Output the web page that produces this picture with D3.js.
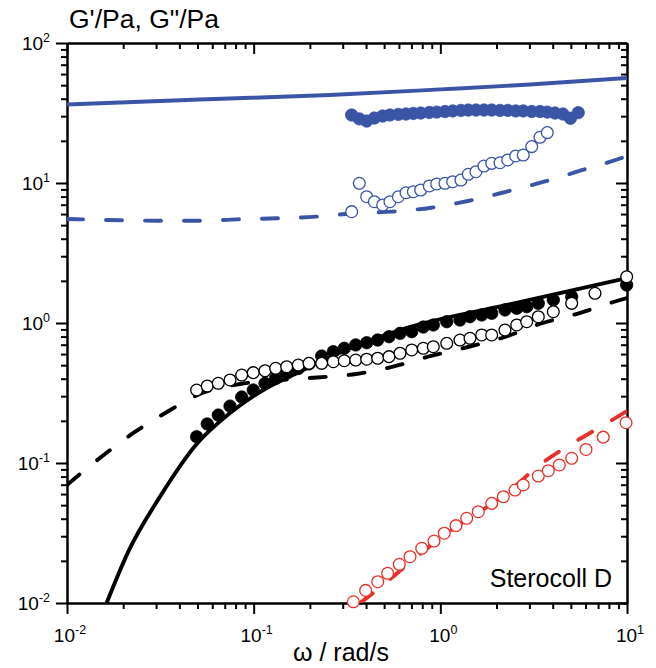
<!DOCTYPE html>
<html>
<head>
<meta charset="UTF-8">
<title>Sterocoll D</title>
<script src="https://d3js.org/d3.v7.min.js"></script>
<style>
  body { margin: 0; background: #fff; }
  svg { display: block; font-family: "Liberation Sans", Arial, sans-serif; }
  .axis path, .axis line { stroke: #000; stroke-width: 2; }
  .axis text { display: none; }
</style>
</head>
<body>
<svg id="chart" width="656" height="668"></svg>
<script>
// measured points (omega in rad/s, moduli in Pa)
const blueOmega = [0.335, 0.368, 0.403, 0.443, 0.491, 0.537, 0.596, 0.655, 0.717, 0.785,
  0.873, 0.956, 1.059, 1.165, 1.290, 1.412, 1.552, 1.713, 1.884, 2.087,
  2.296, 2.534, 2.782, 3.087, 3.419, 3.741, 4.114, 4.54, 4.98, 5.48];
const blueG1 = [30.6, 28.7, 27.7, 29.1, 30.1, 30.6, 30.9, 31.1, 31.4, 31.6,
  31.9, 32.1, 32.4, 32.7, 33.0, 33.2, 33.2, 33.2, 33.2, 33.0,
  33.0, 32.7, 32.7, 32.4, 32.4, 32.1, 31.6, 31.1, 29.0, 31.8];
const blueG2 = [6.24, 9.95, 7.98, 7.35, 6.97, 7.35, 7.98, 8.52, 8.67, 8.91,
  9.52, 9.84, 9.95, 10.22, 10.5, 11.54, 12.04, 13.22, 13.82, 13.96,
  14.6, 15.6, 15.85, 18.2, 21.2, 22.9];

const blackOmega = [0.0495, 0.0564, 0.0646, 0.0747, 0.0863, 0.0995, 0.115, 0.1312, 0.1503, 0.1734,
  0.1979, 0.2314, 0.2671, 0.3058, 0.3521, 0.4033, 0.4618, 0.5309, 0.6081, 0.7026,
  0.8103, 0.917, 1.082, 1.274, 1.442, 1.665, 1.884, 2.22, 2.566, 2.902,
  3.348, 4.029, 5.054, 6.737, 9.96];
const blackG1 = [0.154, 0.190, 0.220, 0.255, 0.296, 0.332, 0.371, 0.403, 0.440, 0.473,
  0.510, 0.581, 0.624, 0.660, 0.697, 0.723, 0.756, 0.798, 0.844, 0.867,
  0.936, 0.968, 1.022, 1.050, 1.109, 1.141, 1.173, 1.239, 1.274, 1.307,
  1.382, 1.460, 1.541, null, 1.868];
const blackG2 = [0.332, 0.355, 0.371, 0.392, 0.425, 0.442, 0.456, 0.475, 0.487, 0.501,
  0.515, 0.515, 0.529, 0.538, 0.544, 0.551, 0.560, 0.575, 0.608, 0.642,
  0.660, 0.677, 0.716, 0.756, 0.778, 0.821, 0.821, 0.891, 0.968, 1.022,
  1.109, 1.204, 1.382, 1.630, 2.141];

const redOmega = [0.342, 0.398, 0.462, 0.522, 0.603, 0.688, 0.795, 0.925, 1.050, 1.213,
  1.384, 1.597, 1.884, 2.175, 2.512, 2.782, 3.348, 3.788, 4.338, 5.054,
  6.03, 7.46, 9.88];
const redG2 = [0.0102, 0.0123, 0.0142, 0.0163, 0.0189, 0.0214, 0.0246, 0.0277, 0.0315, 0.0357,
  0.0403, 0.0449, 0.0515, 0.0574, 0.0641, 0.0697, 0.0807, 0.0881, 0.0968, 0.108,
  0.125, 0.153, 0.194];

// model curves
const blueFitOmega = [0.01, 0.0516, 0.2563, 1.0, 3.021, 10];
const blueFitG1 = [36.4, 39.5, 42.5, 46.6, 50.5, 56.2];
const blueFit2Omega = [0.01, 0.0197, 0.0319, 0.0509, 0.0814, 0.1334, 0.2158, 0.3447, 0.551, 0.8913,
  1.406, 2.275, 3.636, 5.666, 8.838, 10];
const blueFitG2 = [5.53, 5.42, 5.38, 5.38, 5.50, 5.60, 5.75, 6.08, 6.24, 6.66,
  7.44, 8.69, 10.25, 12.29, 14.72, 15.59];

const blackFitOmega = [0.0163, 0.0213, 0.0315, 0.0495, 0.0747, 0.1126, 0.17, 0.2563, 0.6081, 2.267, 10];
const blackFitG1 = [0.01, 0.0233, 0.0575, 0.1367, 0.2276, 0.3322, 0.4373, 0.5717, 0.8913, 1.345, 2.096];
const blackFit2Omega = [0.01, 0.015, 0.0231, 0.0343, 0.0529, 0.0845, 0.1384, 0.2184, 0.3534, 0.5578,
  0.8913, 1.406, 2.22, 3.462, 5.463, 8.626, 10];
const blackFitG2 = [0.0697, 0.1086, 0.1666, 0.2313, 0.3162, 0.3667, 0.3916, 0.408, 0.4323, 0.4874,
  0.5813, 0.6739, 0.7943, 0.9918, 1.169, 1.424, 1.509];

const redFitOmega = [0.371, 0.458, 0.663, 0.996, 2.42, 3.295, 4.83, 7.35, 10];
const redFitG2 = [0.01, 0.0124, 0.0187, 0.0291, 0.0652, 0.0936, 0.1322, 0.1837, 0.235];

const xMajors = [0.01, 0.1, 1, 10];
const yMajors = [0.01, 0.1, 1, 10, 100];

const BLUE = '#3a55a6', RED = '#e8302a';

const W = 656, H = 668;
const margin = { left: 67, right: 29, top: 43, bottom: 65 };
const svg = d3.select('#chart');

const x = d3.scaleLog().domain([0.01, 10]).range([margin.left, W - margin.right]);
const y = d3.scaleLog().domain([0.01, 100]).range([H - margin.bottom, margin.top]);

function minorsOf(majors) {
  const out = [];
  for (let i = 0; i < majors.length - 1; i++)
    for (let k = 2; k <= 9; k++) out.push(majors[i] * k);
  return out;
}
const xMinors = minorsOf(xMajors), yMinors = minorsOf(yMajors);

svg.append('clipPath').attr('id', 'plot')
  .append('rect')
  .attr('x', margin.left).attr('y', margin.top)
  .attr('width', W - margin.left - margin.right)
  .attr('height', H - margin.top - margin.bottom);

// axes: left/bottom ticks outward, top/right ticks inward
function drawAxis(maker, scale, vals, size, tr) {
  svg.append('g').attr('class', 'axis').attr('transform', tr)
    .call(maker(scale).tickValues(vals).tickSize(size).tickSizeOuter(0).tickFormat(''));
}
const x0 = margin.left, x1 = W - margin.right, y0 = margin.top, y1 = H - margin.bottom;
drawAxis(d3.axisBottom, x, xMinors, 6, `translate(0,${y1})`);
drawAxis(d3.axisBottom, x, xMajors, 11, `translate(0,${y1})`);
drawAxis(d3.axisBottom, x, xMinors, 6, `translate(0,${y0})`);
drawAxis(d3.axisBottom, x, xMajors, 11, `translate(0,${y0})`);
drawAxis(d3.axisLeft, y, yMinors, 6, `translate(${x0},0)`);
drawAxis(d3.axisLeft, y, yMajors, 11, `translate(${x0},0)`);
drawAxis(d3.axisLeft, y, yMinors, 6, `translate(${x1},0)`);
drawAxis(d3.axisLeft, y, yMajors, 11, `translate(${x1},0)`);

function powerLabel(g, v, px, py, anchor) {
  const t = g.append('text').attr('x', px).attr('y', py)
    .attr('text-anchor', anchor).attr('font-size', 19).attr('fill', '#000');
  t.append('tspan').text('10');
  t.append('tspan').attr('font-size', 12.5).attr('dy', -8).text(Math.round(Math.log10(v)));
}
const labels = svg.append('g');
xMajors.forEach(v => powerLabel(labels, v, x(v) + 3, y1 + 39, 'middle'));
yMajors.forEach(v => powerLabel(labels, v, x0 - 17, y(v) + 7, 'end'));

svg.append('text').attr('x', 69).attr('y', 28).attr('font-size', 26.5).text('G\'/Pa, G"/Pa');
svg.append('text').attr('x', 293).attr('y', 661).attr('font-size', 25).text('ω / rad/s');
svg.append('text').attr('x', 612).attr('y', 587).attr('text-anchor', 'end')
  .attr('font-size', 25).text('Sterocoll D');

// model lines
const curves = svg.append('g').attr('clip-path', 'url(#plot)');
const line = d3.line().x(d => x(d[0])).y(d => y(d[1])).curve(d3.curveMonotoneX);
function fit(om, g, color, dashed) {
  curves.append('path')
    .attr('d', line(om.map((o, i) => [o, g[i]])))
    .attr('fill', 'none').attr('stroke', color).attr('stroke-width', 3.9)
    .attr('stroke-linecap', dashed ? 'round' : 'butt')
    .attr('stroke-dasharray', dashed ? '16,23' : null);
}
fit(blueFitOmega, blueFitG1, BLUE, false);
fit(blueFit2Omega, blueFitG2, BLUE, true);
fit(blackFitOmega, blackFitG1, '#000', false);
fit(blackFit2Omega, blackFitG2, '#000', true);
fit(redFitOmega, redFitG2, RED, true);

// measured points
const marks = svg.append('g');
function points(om, g, color, filled) {
  marks.selectAll(null)
    .data(om.map((o, i) => [o, g[i]]).filter(d => d[1] != null))
    .join('circle')
    .attr('cx', d => x(d[0])).attr('cy', d => y(d[1])).attr('r', filled ? 6.2 : 5.9)
    .attr('fill', filled ? color : '#fff')
    .attr('stroke', color).attr('stroke-width', filled ? 0.8 : 1.3);
}
points(blueOmega, blueG1, BLUE, true);
points(blueOmega.slice(0, blueG2.length), blueG2, BLUE, false);
points(blackOmega, blackG1, '#000', true);
points(blackOmega, blackG2, '#000', false);
points(redOmega, redG2, RED, false);
</script>
</body>
</html>
